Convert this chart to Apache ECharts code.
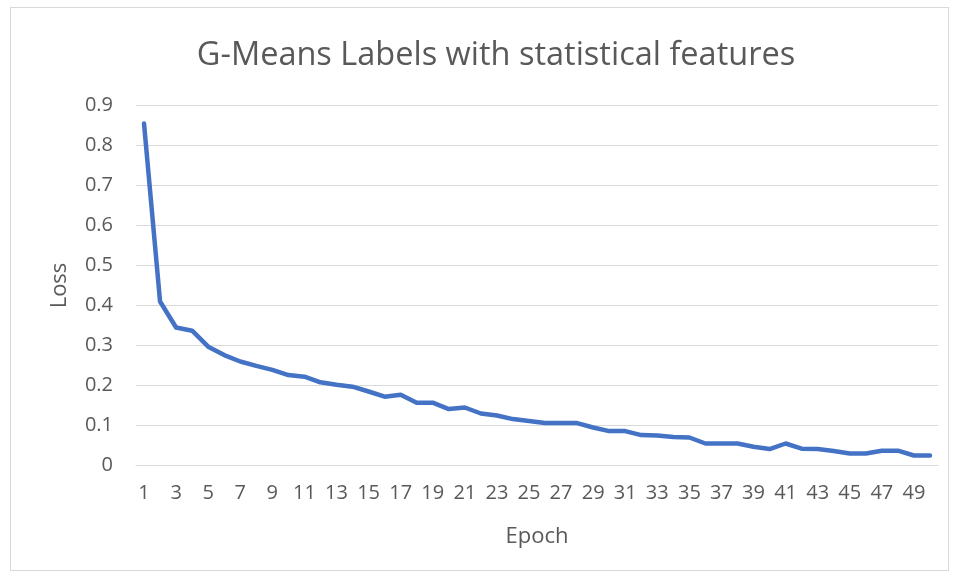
<!DOCTYPE html>
<html>
<head>
<meta charset="utf-8">
<script src="https://cdn.jsdelivr.net/npm/echarts@6/dist/echarts.min.js"></script>
<style>
html,body{margin:0;padding:0;background:#fff;}
#frame{position:absolute;left:10px;top:7px;width:939px;height:564px;border:1px solid #d9d9d9;box-sizing:border-box;}
#chart{position:absolute;left:0;top:0;width:958px;height:579px;}
</style>
</head>
<body>
<div id="frame"></div>
<div id="chart"></div>
<script>
const titleText = "G-Means Labels with statistical features";
const xAxisName = "Epoch";
const yAxisName = "Loss";
const epochs = [];
for (let i = 1; i <= 50; i++) epochs.push(String(i));
const loss = [
  0.855, 0.410, 0.345, 0.337, 0.297, 0.276, 0.260, 0.249, 0.239, 0.226,
  0.222, 0.208, 0.202, 0.197, 0.185, 0.172, 0.177, 0.157, 0.157, 0.141,
  0.145, 0.130, 0.125, 0.116, 0.111, 0.106, 0.106, 0.106, 0.095, 0.086,
  0.086, 0.076, 0.075, 0.071, 0.070, 0.055, 0.055, 0.055, 0.047, 0.041,
  0.055, 0.042, 0.041, 0.036, 0.030, 0.030, 0.037, 0.037, 0.025, 0.025
];
const yTicks = [0, 0.1, 0.2, 0.3, 0.4, 0.5, 0.6, 0.7, 0.8, 0.9];

const chart = echarts.init(document.getElementById('chart'), null, {renderer: 'canvas'});
const font = '"Open Sans", "Noto Sans", sans-serif';
chart.setOption({
  animation: false,
  backgroundColor: 'transparent',
  title: {
    text: titleText,
    left: 491, top: 34, textAlign: 'center',
    textStyle: {fontFamily: font, fontSize: 32.5, fontWeight: 'normal', color: '#595959'}
  },
  grid: {left: 136, right: 20, top: 105.5, bottom: 113.5, containLabel: false},
  xAxis: {
    type: 'category',
    data: epochs,
    boundaryGap: true,
    name: xAxisName,
    nameLocation: 'middle',
    nameGap: 60,
    nameTextStyle: {fontFamily: font, fontSize: 22, color: '#595959'},
    axisLine: {show: true, lineStyle: {color: '#d9d9d9', width: 1}},
    axisTick: {show: false},
    axisLabel: {interval: 1, fontFamily: font, fontSize: 20, color: '#595959', margin: 18},
    splitLine: {show: false}
  },
  yAxis: {
    type: 'value',
    min: 0, max: 0.9, interval: 0.1,
    name: yAxisName,
    nameLocation: 'middle',
    nameGap: 65,
    nameRotate: 90,
    nameTextStyle: {fontFamily: font, fontSize: 22, color: '#595959'},
    axisLine: {show: false},
    axisTick: {show: false},
    axisLabel: {
      fontFamily: font, fontSize: 20, color: '#595959', margin: 23,
      formatter: function (v) {
        const t = yTicks.find(function (k) { return Math.abs(k - v) < 1e-9; });
        return t === undefined ? '' : String(t);
      }
    },
    splitLine: {show: true, lineStyle: {color: '#d9d9d9', width: 1}}
  },
  series: [{
    type: 'line',
    data: loss,
    showSymbol: false,
    symbol: 'none',
    lineStyle: {color: '#4472C4', width: 4.5, cap: 'round', join: 'round'},
    itemStyle: {color: '#4472C4'}
  }]
});
</script>
</body>
</html>
